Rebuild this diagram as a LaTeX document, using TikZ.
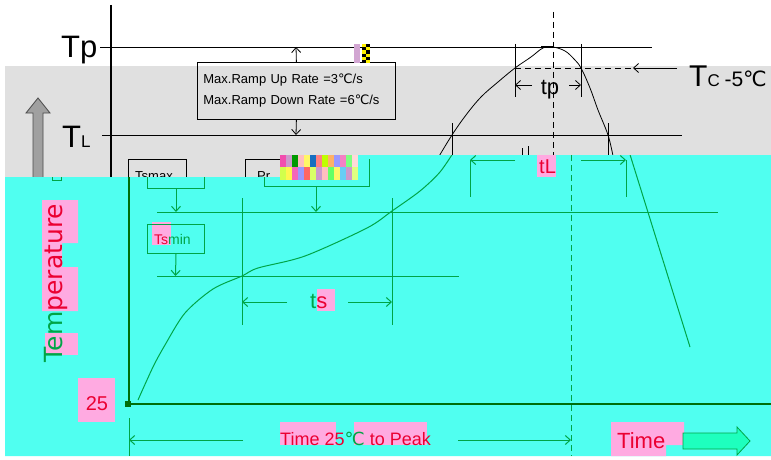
\documentclass[tikz,border=0pt]{standalone}
\usepackage{fontspec}
\setmainfont{Liberation Sans}
\newfontfamily\dejavu{DejaVu Sans}
\usetikzlibrary{arrows.meta}
\definecolor{bandgray}{RGB}{224, 224, 224}
\definecolor{arrowgray}{RGB}{160, 160, 160}
\definecolor{aqua}{RGB}{80, 255, 240}
\definecolor{leaf}{RGB}{0, 165, 70}
\definecolor{forest}{RGB}{0, 110, 10}
\definecolor{blush}{RGB}{255, 170, 225}
\definecolor{crimson}{RGB}{235, 0, 50}
\definecolor{mint}{RGB}{30, 255, 190}
\newcommand{\celsiusmark}{{\dejavu ℃}}

\begin{document}
\begin{tikzpicture}[x=1pt, y=-1pt,
        blk/.style={black, line width=0.8pt},
        grn/.style={leaf, line width=1pt},
        longdash/.style={dash pattern=on 6pt off 4pt},
        pointer/.style={-{Straight Barb[length=5pt,width=9pt]}},
        lbl/.style={inner sep=0pt}]
            \useasboundingbox (0,0) rectangle (771,460);
            \fill[white] (0,0) rectangle (771,460);
            \fill[bandgray] (5,66) rectangle (771,177);
            % upper (black) part
            \draw[blk, line width=2.2pt] (111,5) -- (111,177);
            \draw[blk] (100,47) -- (652,47);
            \draw[blk] (102,135) -- (682,135);
            \node[lbl, anchor=base west, font=\fontsize{31}{31}\selectfont] (tplabel) at (61,58) {Tp};
            \node[lbl, anchor=base west] (tllabel) at (62,147) {\fontsize{31}{31}\selectfont T\fontsize{17}{17}\selectfont L};
            \node[draw=black, line width=0.8pt, text width=186pt, inner xsep=6pt, inner ysep=0pt, minimum height=57pt,
                  align=left, anchor=north west, font=\fontsize{13}{21}\selectfont] (ramp) at (197,62)
                 {Max.Ramp Up Rate =3\celsiusmark/s\\Max.Ramp Down Rate =6\celsiusmark/s};
            \coordinate (rampup) at (296,47);
            \coordinate (rampdown) at (296,135);
            \draw[blk, pointer] (ramp.north) -- (rampup);
            \draw[blk, pointer] (ramp.south) -- (rampdown);
            \fill[violet!35] (354,44) rectangle (360,63);
            \foreach \j in {0,2,4}{
                \fill[yellow] (362,44+\j*3.2) rectangle ++(4,3.2);
                \fill[black] (366,44+\j*3.2) rectangle ++(4,3.2);
                \fill[black] (362,47.2+\j*3.2) rectangle ++(4,3.2);
                \fill[yellow] (366,47.2+\j*3.2) rectangle ++(4,3.2);
            }
            \draw[blk] plot[smooth, tension=0.6] coordinates {(438,158) (452,135) (466,115) (481,97) (498,82) (515,68)
                 (531,57) (543,48) (553,47) (565,51) (574,59) (581,68) (590,88) (598,110) (608,135) (613,156)};
            \draw[black, line width=2pt] (541,47) -- (553,47);
            \draw[blk] (515,44) -- (515,97);
            \draw[blk] (581,44) -- (581,97);
            \node[lbl, font=\fontsize{22}{22}\selectfont] (tpwidth) at (550,90) {tp};
            \coordinate (tpleft) at (515,85);
            \coordinate (tpright) at (581,85);
            \coordinate (tpmidl) at (532,85);
            \coordinate (tpmidr) at (569,85);
            \draw[blk, pointer] (tpmidl) -- (tpleft);
            \draw[blk, pointer] (tpmidr) -- (tpright);
            \draw[blk, longdash] (515,68) -- (636,68);
            \coordinate (tcfrom) at (677,68);
            \coordinate (tcto) at (633,68);
            \draw[blk, pointer] (tcfrom) -- (tcto);
            \node[lbl, anchor=base west] (tclabel) at (689,87)
                 {\fontsize{30}{30}\selectfont T\fontsize{17}{17}\selectfont C \fontsize{21}{21}\selectfont -5\celsiusmark};
            \draw[blk, longdash] (553,12) -- (553,156);
            \draw[blk] (452,123) -- (452,156);
            \draw[blk] (608,123) -- (608,156);
            \draw[blk] (522,148) -- (522,155);
            \draw[blk] (528,146) -- (528,155);
            \draw[blk] (128,177) -- (128,159) -- (186,159) -- (186,177);
            \node[lbl, anchor=base west, font=\fontsize{13}{13}\selectfont] (smaxtext) at (135,180) {Tsmax};
            \draw[blk] (245,177) -- (245,159) -- (369,159);
            \node[lbl, anchor=base west, font=\fontsize{13}{13}\selectfont] (preheat) at (257,180) {Pr};
            \filldraw[draw=black!70, fill=arrowgray, line width=0.8pt] (33,177) -- (33,113) -- (26,113) -- (38,98)
                 -- (50,113) -- (43,113) -- (43,177);
            % lower (cyan) part
            \fill[aqua] (5,177) -- (280,177) -- (280,155) -- (771,155) -- (771,456) -- (5,456) -- cycle;
            \foreach \x/\ca/\cb in {280/magenta!70/lime!70, 286/violet!40/yellow!70, 292/green!60!black/magenta!60,
                 298/pink/blue!40, 304/yellow!60/red!60, 310/cyan!50!blue/lime!60, 316/red!50/violet!40,
                 322/lime/pink, 328/orange!60/green!60, 334/blue!40/yellow!60, 340/magenta!50/cyan!60,
                 346/green!50/violet!40, 352/pink!60/lime!50}{
                \fill[\ca] (\x,155) rectangle ++(6,12);
                \fill[\cb] (\x,167) rectangle ++(6,13);
            }
            \begin{scope}
                \clip (5,177) -- (280,177) -- (280,155) -- (771,155) -- (771,456) -- (5,456) -- cycle;
                \draw[grn] plot[smooth, tension=0.5] coordinates {(138,400) (153,367) (165,345) (185,313) (213,289)
                     (242,276) (258,268) (305,256) (367,228) (392,211) (420,191) (440,172) (455,150)};
                \draw[grn] (627,145) -- (690,347);
            \end{scope}
            \draw[forest, line width=2.6pt] (129,177) -- (129,404) -- (771,404);
            \fill[forest] (125,401) rectangle (131,407);
            \draw[grn, line width=0.8pt] (52,177) -- (52,180) -- (61,180) -- (61,177);
            \draw[grn] (157,212) -- (718,212);
            \draw[grn] (157,276) -- (459,276);
            % Ts boxes
            \draw[grn] (147,177) -- (147,188) -- (204,188) -- (204,177);
            \coordinate (smaxfrom) at (176,188);
            \coordinate (smaxto) at (176,212);
            \draw[grn, pointer] (smaxfrom) -- (smaxto);
            \fill[blush] (152,222) rectangle (171,245);
            \node[draw=leaf, line width=1pt, minimum width=57pt, minimum height=29pt, anchor=north west] (smin) at (147,224) {};
            \node[lbl, anchor=base west, text=leaf, font=\fontsize{14}{14}\selectfont] (smintext) at (154,244)
                 {\textcolor{crimson}{Ts}min};
            \coordinate (sminto) at (175.5,276);
            \draw[grn, pointer] (smin.south) -- (sminto);
            \draw[grn] (264,177) -- (264,186) -- (369,186) -- (369,159);
            \coordinate (prefrom) at (316,186);
            \coordinate (preto) at (316,212);
            \draw[grn, pointer] (prefrom) -- (preto);
            % ts
            \draw[grn] (242,198) -- (242,325);
            \draw[grn] (392,198) -- (392,325);
            \coordinate (tsl) at (242,302);
            \coordinate (tsr) at (392,302);
            \coordinate (tsml) at (287,302);
            \coordinate (tsmr) at (348,302);
            \draw[grn, pointer] (tsml) -- (tsl);
            \draw[grn, pointer] (tsmr) -- (tsr);
            \fill[blush] (317,289) rectangle (335,311);
            \node[lbl, anchor=base west, text=leaf, font=\fontsize{22}{22}\selectfont] (tstext) at (310,308)
                 {t\textcolor{crimson}{s}};
            % tL
            \draw[grn] (470,160) -- (470,197);
            \draw[grn] (626,160) -- (626,197);
            \coordinate (tll) at (470,160);
            \coordinate (tlr) at (626,160);
            \coordinate (tlml) at (515,160);
            \coordinate (tlmr) at (581,160);
            \draw[grn, pointer] (tlml) -- (tll);
            \draw[grn, pointer] (tlmr) -- (tlr);
            \fill[blush] (537,155) rectangle (556,177);
            \node[lbl, anchor=base west, text=crimson, font=\fontsize{20}{20}\selectfont] (tltext) at (539,173) {tL};
            \draw[grn, longdash] (571,155) -- (571,456);
            % axis labels
            \fill[blush] (42,200) -- (78,200) -- (78,243) -- (62,243) -- (62,267) -- (78,267) -- (78,311) -- (42,311) -- cycle;
            \fill[blush] (45,333) rectangle (78,355);
            \node[lbl, rotate=90, text=leaf, font=\dejavu\fontsize{25}{25}\selectfont] (templabel) at (56,283)
                 {Tem\textcolor{crimson}{perature}};
            \fill[blush] (78,378) rectangle (115,422);
            \node[lbl, text=crimson, font=\fontsize{20}{20}\selectfont] (zerolabel) at (97,404) {25};
            % time to peak
            \draw[grn] (129,418) -- (129,456);
            \coordinate (ttpl) at (129,440);
            \coordinate (ttpr) at (571,440);
            \coordinate (ttpml) at (243,440);
            \coordinate (ttpmr) at (458,440);
            \draw[grn, pointer] (ttpml) -- (ttpl);
            \draw[grn, pointer] (ttpmr) -- (ttpr);
            \fill[blush] (280,422) rectangle (336,445);
            \fill[blush] (354,422) rectangle (427,445);
            \node[lbl, anchor=base west, text=crimson, font=\fontsize{18}{18}\selectfont] (ttptext) at (280,445)
                 {Time 25\textcolor{leaf}{\celsiusmark} to Peak};
            \fill[blush] (611,422) -- (684,422) -- (684,445) -- (666,445) -- (666,456) -- (611,456) -- cycle;
            \node[lbl, anchor=base west, text=crimson, font=\fontsize{22}{22}\selectfont] (timetext) at (617,448) {Time};
            \filldraw[draw=leaf, fill=mint, line width=0.8pt] (683,433) -- (737,433) -- (737,427) -- (750,441)
                 -- (737,455) -- (737,449) -- (683,449) -- cycle;
        \end{tikzpicture}
\end{document}
